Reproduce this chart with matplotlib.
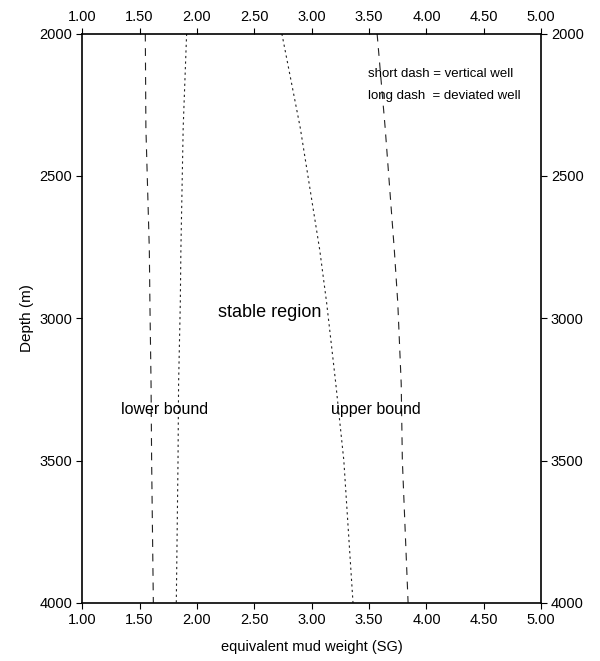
import matplotlib
matplotlib.use('Agg')
import matplotlib.pyplot as plt
import numpy as np

plt.rcParams['font.family'] = ['Liberation Sans', 'DejaVu Sans']

# Depth (m) at which each curve was read
depth = [2000, 2330, 2760, 2945, 3230, 3500, 4000]

# Mud weight (SG) readings for each bound
lower_deviated = [1.55, 1.555, 1.585, 1.59, 1.60, 1.605, 1.62]   # long dash
lower_vertical = [1.91, 1.88, 1.86, 1.855, 1.84, 1.835, 1.82]    # short dash
upper_vertical = [2.74, 2.90, 3.07, 3.13, 3.21, 3.28, 3.36]      # short dash
upper_deviated = [3.57, 3.64, 3.72, 3.75, 3.78, 3.79, 3.84]      # long dash

xticks = [1.0, 1.5, 2.0, 2.5, 3.0, 3.5, 4.0, 4.5, 5.0]
yticks = [2000, 2500, 3000, 3500, 4000]

fig = plt.figure(figsize=(6.0, 6.61), dpi=100)
ax = fig.add_axes([0.137, 0.088, 0.765, 0.861])

long_dash = (0, (7, 6))
short_dash = (0, (2, 3))

ax.plot(lower_deviated, depth, color='#222222', lw=0.8, linestyle=long_dash)
ax.plot(lower_vertical, depth, color='#222222', lw=0.8, linestyle=short_dash)
ax.plot(upper_vertical, depth, color='#222222', lw=0.8, linestyle=short_dash)
ax.plot(upper_deviated, depth, color='#222222', lw=0.8, linestyle=long_dash)

ax.set_xlim(1.0, 5.0)
ax.set_ylim(4000, 2000)
ax.set_xticks(xticks)
ax.set_xticklabels(['%.2f' % t for t in xticks])
ax.set_yticks(yticks)
ax.set_yticklabels([str(t) for t in yticks])

ax.tick_params(top=True, labeltop=True, right=True, labelright=True,
               direction='out', length=4, width=0.8, labelsize=10.5, pad=3)

for s in ax.spines.values():
    s.set_linewidth(1.2)

ax.set_xlabel('equivalent mud weight (SG)', fontsize=10.5, labelpad=10)
ax.set_ylabel('Depth (m)', fontsize=11, labelpad=4)

ax.text(2.63, 2981, 'stable region', fontsize=13, ha='center', va='center')
ax.text(1.72, 3322, 'lower bound', fontsize=11.5, ha='center', va='center')
ax.text(3.56, 3322, 'upper bound', fontsize=11.5, ha='center', va='center')
ax.text(3.49, 2141, 'short dash = vertical well', fontsize=9.5, ha='left', va='center')
ax.text(3.49, 2218, 'long dash  = deviated well', fontsize=9.5, ha='left', va='center')

fig.savefig('out.png', dpi=100)
